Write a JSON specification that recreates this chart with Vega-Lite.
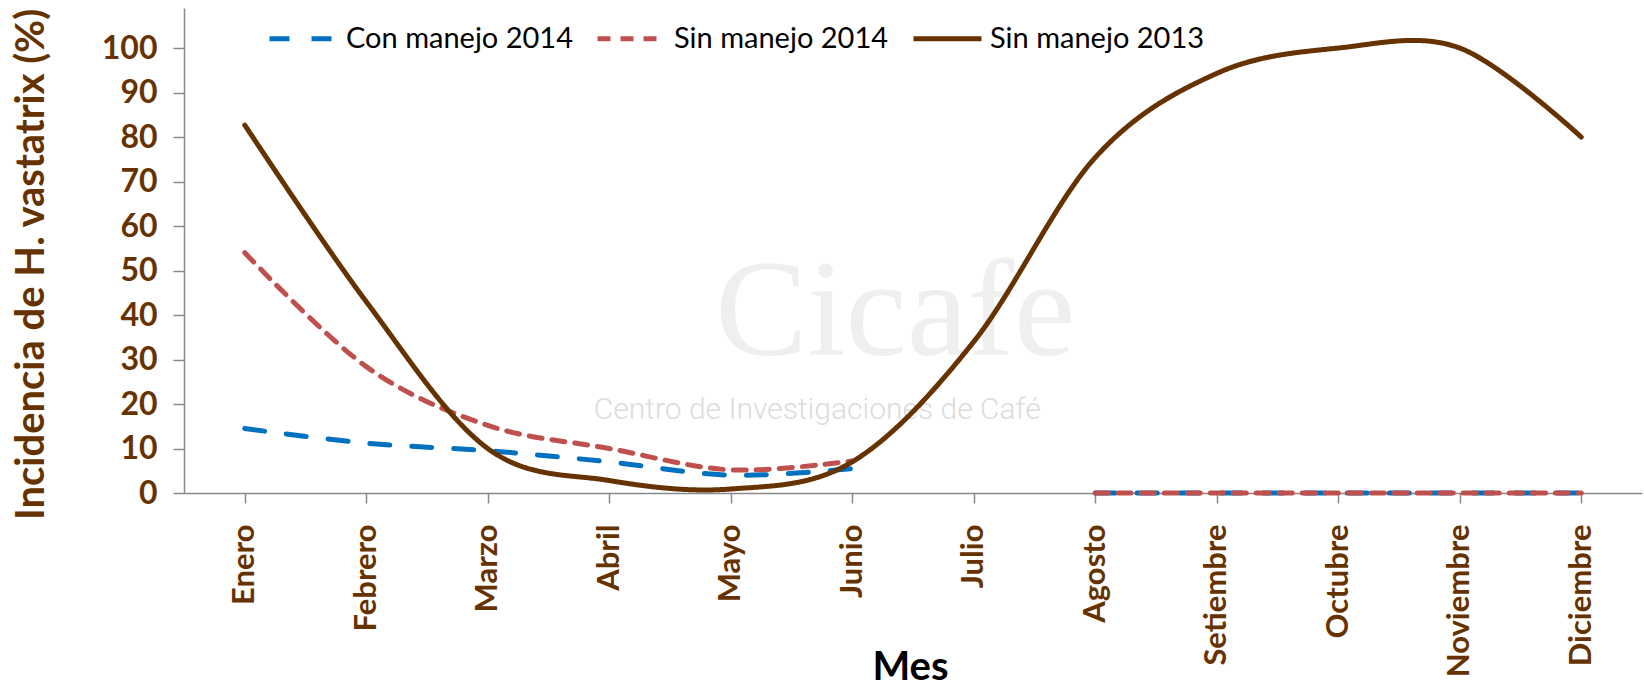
{
  "$schema": "https://vega.github.io/schema/vega-lite/v6.json",
  "width": 1458,
  "height": 485,
  "autosize": {"type": "none"},
  "padding": {"left": 184, "top": 8, "right": 2, "bottom": 194},
  "background": "white",
  "config": {"view": {"stroke": null}, "font": "Lato"},
  "encoding": {
    "x": {
      "field": "mes",
      "type": "ordinal",
      "sort": ["Enero","Febrero","Marzo","Abril","Mayo","Junio","Julio","Agosto","Setiembre","Octubre","Noviembre","Diciembre"],
      "scale": {"type": "point", "padding": 0.5, "domain": ["Enero","Febrero","Marzo","Abril","Mayo","Junio","Julio","Agosto","Setiembre","Octubre","Noviembre","Diciembre"]},
      "axis": {
        "title": "Mes",
        "labelAngle": -90,
        "labelAlign": "right",
        "labelBaseline": "middle",
        "labelFontSize": 31,
        "labelFontWeight": "bold",
        "labelColor": "#663300",
        "labelPadding": 21,
        "labelOverlap": false,
        "tickSize": 10,
        "tickWidth": 1.5,
        "tickColor": "#898989",
        "domainColor": "#898989",
        "domainWidth": 1.5,
        "grid": false,
        "titleFontSize": 40,
        "titleFontWeight": "bold",
        "titleColor": "black",
        "titleX": 726,
        "titleY": 194,
        "titleAlign": "center",
        "titleBaseline": "bottom"
      }
    },
    "y": {
      "field": "valor",
      "type": "quantitative",
      "scale": {"domain": [0, 109], "nice": false},
      "axis": {
        "title": "Incidencia de H. vastatrix (%)",
        "values": [0,10,20,30,40,50,60,70,80,90,100],
        "tickSize": 11,
        "tickWidth": 1.5,
        "tickColor": "#898989",
        "domainColor": "#898989",
        "domainWidth": 1.5,
        "labelPadding": 16,
        "labelFontSize": 32,
        "labelFontWeight": "bold",
        "labelColor": "#663300",
        "grid": false,
        "titleFontSize": 40,
        "titleFontWeight": "bold",
        "titleColor": "#663300",
        "titleAngle": 270,
        "titleX": -153,
        "titleY": 256,
        "titleAlign": "center",
        "titleBaseline": "middle"
      }
    }
  },
  "layer": [
    {
      "data": {"values": [{"mes": "Junio", "valor": 31, "texto": "Cicafe"}]},
      "mark": {"type": "text", "font": "Liberation Serif", "fontSize": 138, "color": "#efefef", "dx": 43, "baseline": "alphabetic", "align": "center"},
      "encoding": {"text": {"field": "texto"}}
    },
    {
      "data": {"values": [{"mes": "Junio", "valor": 16.6, "texto": "Centro de Investigaciones de Café"}]},
      "mark": {"type": "text", "font": "Roboto", "fontWeight": 300, "fontSize": 30, "color": "#dcdcdc", "dx": -35, "baseline": "alphabetic", "align": "center"},
      "encoding": {"text": {"field": "texto"}}
    },
    {
      "data": {
        "values": [
          {"serie": "Con manejo 2014", "tramo": "a", "n": 1, "mes": "Enero", "valor": 14.5},
          {"serie": "Con manejo 2014", "tramo": "a", "n": 2, "mes": "Febrero", "valor": 11.2},
          {"serie": "Con manejo 2014", "tramo": "a", "n": 3, "mes": "Marzo", "valor": 9.5},
          {"serie": "Con manejo 2014", "tramo": "a", "n": 4, "mes": "Abril", "valor": 7},
          {"serie": "Con manejo 2014", "tramo": "a", "n": 5, "mes": "Mayo", "valor": 4},
          {"serie": "Con manejo 2014", "tramo": "a", "n": 6, "mes": "Junio", "valor": 5.5},
          {"serie": "Con manejo 2014", "tramo": "b", "n": 8, "mes": "Agosto", "valor": 0},
          {"serie": "Con manejo 2014", "tramo": "b", "n": 9, "mes": "Setiembre", "valor": 0},
          {"serie": "Con manejo 2014", "tramo": "b", "n": 10, "mes": "Octubre", "valor": 0},
          {"serie": "Con manejo 2014", "tramo": "b", "n": 11, "mes": "Noviembre", "valor": 0},
          {"serie": "Con manejo 2014", "tramo": "b", "n": 12, "mes": "Diciembre", "valor": 0},
          {"serie": "Sin manejo 2014", "tramo": "a", "n": 1, "mes": "Enero", "valor": 54},
          {"serie": "Sin manejo 2014", "tramo": "a", "n": 2, "mes": "Febrero", "valor": 28.4},
          {"serie": "Sin manejo 2014", "tramo": "a", "n": 3, "mes": "Marzo", "valor": 15.2},
          {"serie": "Sin manejo 2014", "tramo": "a", "n": 4, "mes": "Abril", "valor": 10},
          {"serie": "Sin manejo 2014", "tramo": "a", "n": 5, "mes": "Mayo", "valor": 5.2},
          {"serie": "Sin manejo 2014", "tramo": "a", "n": 6, "mes": "Junio", "valor": 7.2},
          {"serie": "Sin manejo 2014", "tramo": "b", "n": 8, "mes": "Agosto", "valor": 0},
          {"serie": "Sin manejo 2014", "tramo": "b", "n": 9, "mes": "Setiembre", "valor": 0},
          {"serie": "Sin manejo 2014", "tramo": "b", "n": 10, "mes": "Octubre", "valor": 0},
          {"serie": "Sin manejo 2014", "tramo": "b", "n": 11, "mes": "Noviembre", "valor": 0},
          {"serie": "Sin manejo 2014", "tramo": "b", "n": 12, "mes": "Diciembre", "valor": 0},
          {"serie": "Sin manejo 2013", "tramo": "a", "n": 1, "mes": "Enero", "valor": 82.7},
          {"serie": "Sin manejo 2013", "tramo": "a", "n": 2, "mes": "Febrero", "valor": 43},
          {"serie": "Sin manejo 2013", "tramo": "a", "n": 3, "mes": "Marzo", "valor": 10},
          {"serie": "Sin manejo 2013", "tramo": "a", "n": 4, "mes": "Abril", "valor": 2.8},
          {"serie": "Sin manejo 2013", "tramo": "a", "n": 5, "mes": "Mayo", "valor": 0.9},
          {"serie": "Sin manejo 2013", "tramo": "a", "n": 6, "mes": "Junio", "valor": 7},
          {"serie": "Sin manejo 2013", "tramo": "a", "n": 7, "mes": "Julio", "valor": 34},
          {"serie": "Sin manejo 2013", "tramo": "a", "n": 8, "mes": "Agosto", "valor": 75.4},
          {"serie": "Sin manejo 2013", "tramo": "a", "n": 9, "mes": "Setiembre", "valor": 94.3},
          {"serie": "Sin manejo 2013", "tramo": "a", "n": 10, "mes": "Octubre", "valor": 100},
          {"serie": "Sin manejo 2013", "tramo": "a", "n": 11, "mes": "Noviembre", "valor": 100},
          {"serie": "Sin manejo 2013", "tramo": "a", "n": 12, "mes": "Diciembre", "valor": 80}
        ]
      },
      "mark": {"type": "line", "interpolate": "cardinal", "strokeCap": "round", "strokeWidth": 5},
      "encoding": {
        "color": {
          "field": "serie",
          "type": "nominal",
          "scale": {"domain": ["Con manejo 2014", "Sin manejo 2014", "Sin manejo 2013"], "range": ["#0070C0", "#C0504D", "#663300"]},
          "legend": {"title": null, "orient": "none", "legendX": 83, "legendY": -6, "direction": "horizontal", "labelFontSize": 29, "labelColor": "black", "labelFont": "Lato", "labelLimit": 0, "symbolType": "stroke", "symbolSize": 4624, "symbolStrokeWidth": 5, "labelOffset": 6, "columnPadding": 14, "padding": 0}
        },
        "strokeDash": {
          "field": "serie",
          "type": "nominal",
          "scale": {"domain": ["Con manejo 2014", "Sin manejo 2014", "Sin manejo 2013"], "range": [[20, 22], [13, 10], [1, 0]]},
          "legend": {"title": null, "orient": "none", "legendX": 83, "legendY": -6, "direction": "horizontal", "labelFontSize": 29, "labelColor": "black", "labelFont": "Lato", "labelLimit": 0, "symbolType": "stroke", "symbolSize": 4624, "symbolStrokeWidth": 5, "labelOffset": 6, "columnPadding": 14, "padding": 0}
        },
        "detail": {"field": "tramo"},
        "order": {"field": "n", "type": "quantitative"}
      }
    }
  ]
}
